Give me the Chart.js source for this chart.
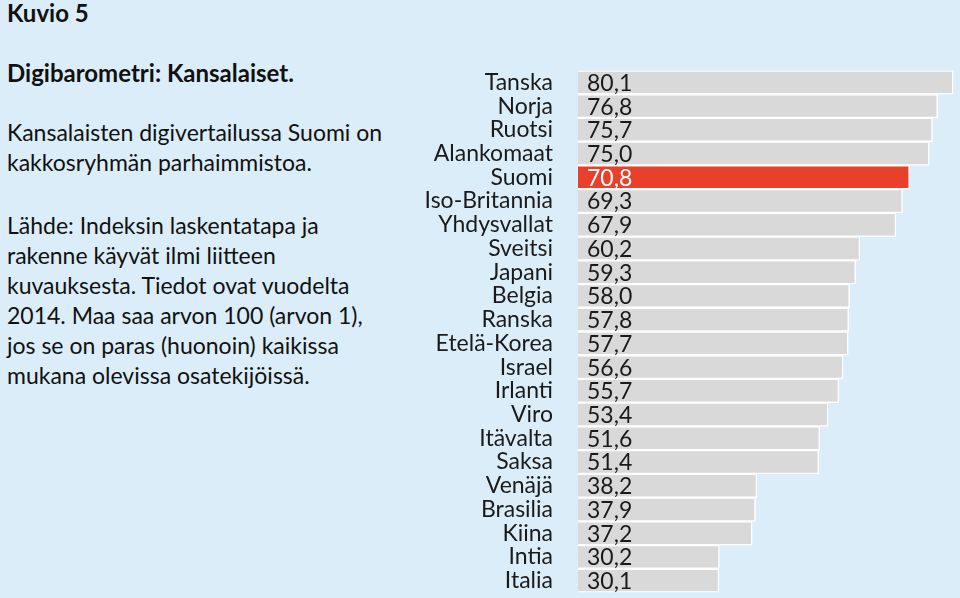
<!DOCTYPE html>
<html>
<head>
<meta charset="utf-8">
<script src="https://cdn.jsdelivr.net/npm/chart.js@4"></script>
<style>
  html, body { margin: 0; padding: 0; }
  body { width: 960px; height: 598px; background: #dbedf8; position: relative; overflow: hidden;
         font-family: Lato, "Open Sans", sans-serif; color: #111; }
  #txt { position: absolute; left: 7px; top: 0; width: 420px; font-size: 23px; line-height: 30px; }
  #txt p { margin: 0; position: absolute; white-space: nowrap; }
  .b { font-weight: bold; font-size: 24px; }
  #graph { position: absolute; left: 420px; top: 34px; }
</style>
</head>
<body>
<div id="txt">
  <p class="b" style="top:-2px">Kuvio 5</p>
  <p class="b" style="top:58px">Digibarometri: Kansalaiset.</p>
  <p style="top:117px">Kansalaisten digivertailussa Suomi on<br>kakkosryhmän parhaimmistoa.</p>
  <p style="top:210px">Lähde: Indeksin laskentatapa ja<br>rakenne käyvät ilmi liitteen<br>kuvauksesta. Tiedot ovat vuodelta<br>2014. Maa saa arvon 100 (arvon 1),<br>jos se on paras (huonoin) kaikissa<br>mukana olevissa osatekijöissä.</p>
</div>
<canvas id="graph" width="540" height="595"></canvas>
<script>
var maat = ["Tanska","Norja","Ruotsi","Alankomaat","Suomi","Iso-Britannia","Yhdysvallat","Sveitsi","Japani","Belgia","Ranska","Etelä-Korea","Israel","Irlanti","Viro","Itävalta","Saksa","Venäjä","Brasilia","Kiina","Intia","Italia"]
var arvot = [80.1,76.8,75.7,75.0,70.8,69.3,67.9,60.2,59.3,58.0,57.8,57.7,56.6,55.7,53.4,51.6,51.4,38.2,37.9,37.2,30.2,30.1]
var korostus = "Suomi"

var varit = maat.map(m => m === korostus ? "#e8402a" : "#d9d9d9")

// arvot palkkien sisään, vasempaan reunaan
var arvoLabelit = {
  id: "arvoLabelit",
  afterDatasetsDraw(chart) {
    var ctx = chart.ctx
    var meta = chart.getDatasetMeta(0)
    ctx.save()
    ctx.font = "23px Lato, 'Open Sans', sans-serif"
    ctx.textBaseline = "middle"
    ctx.textAlign = "left"
    meta.data.forEach((bar, i) => {
      ctx.fillStyle = maat[i] === korostus ? "#ffffff" : "#1a1a1a"
      ctx.fillText(arvot[i].toFixed(1).replace(".", ","), bar.base + 9, bar.y + 1)
    })
    ctx.restore()
  }
}

new Chart(document.getElementById("graph"), {
  type: "bar",
  data: {
    labels: maat,
    datasets: [{
      data: arvot,
      backgroundColor: varit,
      borderColor: "#ffffff",
      borderWidth: 1.5,
      barPercentage: 1,
      categoryPercentage: 1
    }]
  },
  options: {
    indexAxis: "y",
    responsive: false,
    animation: false,
    layout: { padding: { top: 11, bottom: 7, right: 5, left: 0 } },
    plugins: { legend: { display: false }, tooltip: { enabled: false } },
    scales: {
      x: { display: false, min: 0, max: 80.5 },
      y: {
        afterFit(scale) { scale.width = 158 },
        border: { display: false },
        grid: { display: false, drawTicks: false },
        ticks: { padding: 25, color: "#1a1a1a", font: { family: "Lato, 'Open Sans', sans-serif", size: 23, lineHeight: 1 }, autoSkip: false }
      }
    }
  },
  plugins: [arvoLabelit]
})
</script>
</body>
</html>
